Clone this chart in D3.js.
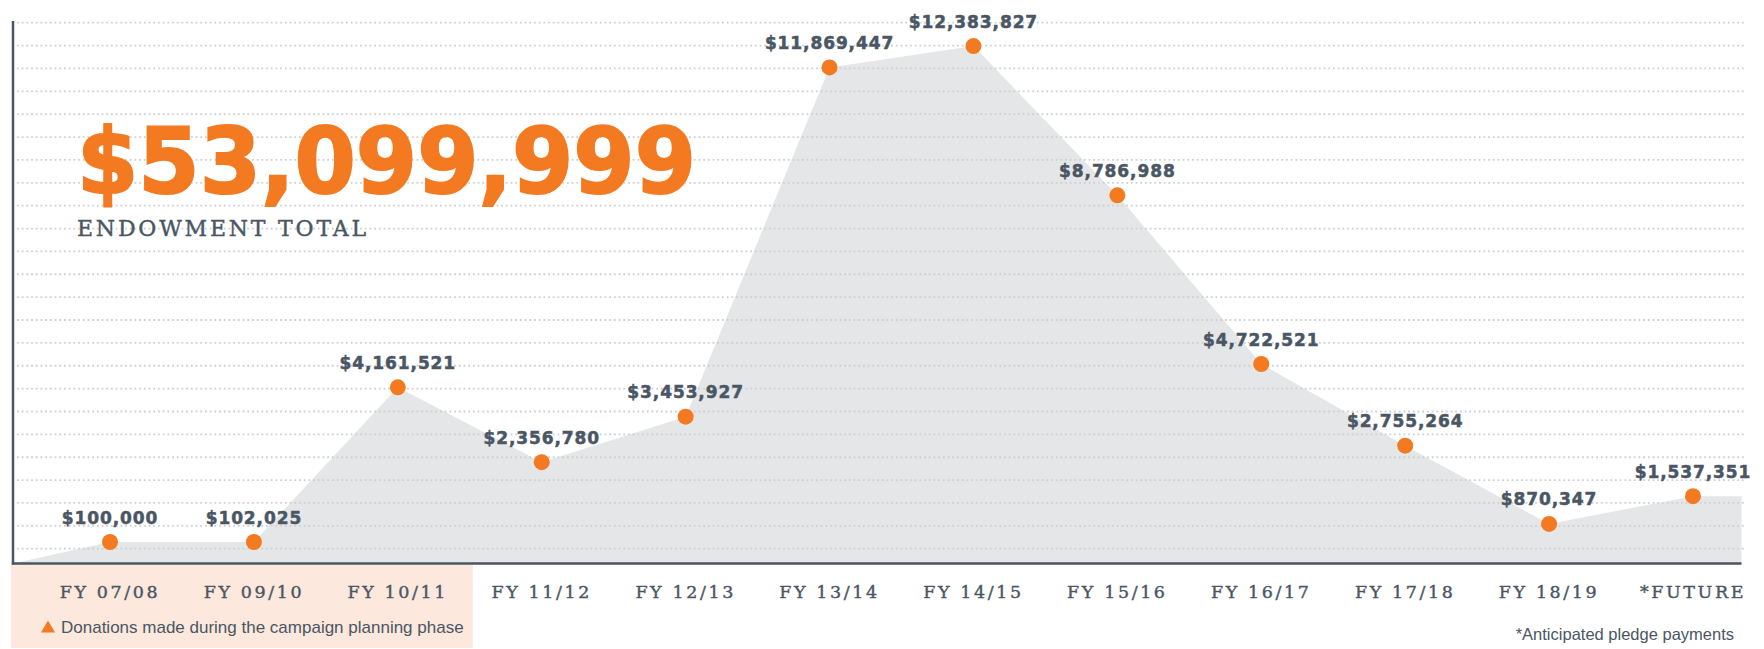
<!DOCTYPE html>
<html>
<head>
<meta charset="utf-8">
<script src="https://cdn.jsdelivr.net/npm/d3@7"></script>
<style>
  body { margin: 0; background: #fff; }
  svg { display: block; }
</style>
</head>
<body>
<div id="chart"></div>
<script>
/* DATA */
const years = ["FY 07/08", "FY 09/10", "FY 10/11", "FY 11/12", "FY 12/13", "FY 13/14",
  "FY 14/15", "FY 15/16", "FY 16/17", "FY 17/18", "FY 18/19", "*FUTURE"];
const donations = [100000, 102025, 4161521, 2356780, 3453927, 11869447,
  12383827, 8786988, 4722521, 2755264, 870347, 1537351];
const planningYears = ["FY 07/08", "FY 09/10", "FY 10/11"];
const endowmentTotal = "$53,099,999";

/* CONSTANTS */
const width = 1764, height = 649;
const axisX = 13, axisTop = 21, baseline = 563.5, rightX = 1741.5;
const orange = "#f37a21", slate = "#4a5664";

const svg = d3.select("#chart").append("svg")
  .attr("width", width)
  .attr("height", height);

// scales
const xScale = d3.scalePoint()
  .domain(years)
  .range([110, 1693]);

const yScale = d3.scaleLinear()
  .domain([0, 13000000])
  .range([560, 560 - 13 * 41.5]);

// tiny values are lifted a little so the dots stay off the axis
const yPos = v => Math.min(yScale(v), yScale(0) - 18);

const pts = years.map((yr, i) => ({ year: yr, value: donations[i], x: xScale(yr), y: yPos(donations[i]) }));

// planning phase box
const step = xScale.step();
svg.append("rect")
  .attr("x", axisX - 2)
  .attr("y", baseline + 1)
  .attr("width", xScale(planningYears[planningYears.length - 1]) + step / 2 + 5 - axisX)
  .attr("height", height - baseline - 2)
  .attr("fill", "#fce8dc");

// gray area
const areaPts = [{ x: axisX, y: baseline }, ...pts, { x: rightX, y: pts[pts.length - 1].y }];
svg.append("path")
  .datum(areaPts)
  .attr("fill", "#e5e6e8")
  .attr("d", d3.area().x(d => d.x).y0(baseline).y1(d => d.y));

// dotted grid lines
const gridY = d3.range(24).map(i => 22.7 + i * 22.87);
svg.append("g")
  .selectAll("line")
  .data(gridY)
  .join("line")
  .attr("x1", axisX + 4)
  .attr("x2", 1745)
  .attr("y1", d => d)
  .attr("y2", d => d)
  .attr("stroke", "#cdd0d3")
  .attr("stroke-width", 1.8)
  .attr("stroke-dasharray", "1.8 2.9");

// axes lines
svg.append("line")
  .attr("x1", axisX).attr("x2", axisX)
  .attr("y1", axisTop).attr("y2", baseline + 1)
  .attr("stroke", slate).attr("stroke-width", 2.5);
svg.append("line")
  .attr("x1", axisX - 1.2).attr("x2", rightX)
  .attr("y1", baseline).attr("y2", baseline)
  .attr("stroke", slate).attr("stroke-width", 2.6);

// x labels
svg.append("g")
  .selectAll("text")
  .data(years)
  .join("text")
  .attr("x", d => xScale(d))
  .attr("y", 598)
  .attr("text-anchor", "middle")
  .attr("font-family", "DejaVu Serif")
  .attr("font-size", 17.5)
  .attr("letter-spacing", 2.6)
  .attr("fill", slate)
  .attr("stroke", slate)
  .attr("stroke-width", 0.4)
  .text(d => d);

// dots
svg.append("g")
  .selectAll("circle")
  .data(pts)
  .join("circle")
  .attr("cx", d => d.x)
  .attr("cy", d => d.y)
  .attr("r", 8)
  .attr("fill", orange);

// value labels
svg.append("g")
  .selectAll("text")
  .data(pts)
  .join("text")
  .attr("x", d => d.x)
  .attr("y", d => d.y - 18.5)
  .attr("text-anchor", "middle")
  .attr("font-family", "DejaVu Sans")
  .attr("font-weight", "bold")
  .attr("font-size", 17)
  .attr("letter-spacing", 0.9)
  .attr("fill", slate)
  .attr("stroke", slate)
  .attr("stroke-width", 0.5)
  .text(d => d3.format("$,")(d.value));

// headline
svg.append("text")
  .attr("x", 77)
  .attr("y", 193)
  .attr("font-family", "DejaVu Sans")
  .attr("font-weight", "bold")
  .attr("font-size", 90)
  .attr("textLength", 619)
  .attr("lengthAdjust", "spacingAndGlyphs")
  .attr("fill", orange)
  .attr("stroke", orange)
  .attr("stroke-width", 2)
  .text(endowmentTotal);

svg.append("text")
  .attr("x", 77)
  .attr("y", 235.5)
  .attr("font-family", "DejaVu Serif")
  .attr("font-size", 22)
  .attr("textLength", 289)
  .attr("lengthAdjust", "spacing")
  .attr("fill", slate)
  .attr("stroke", slate)
  .attr("stroke-width", 0.4)
  .text("ENDOWMENT TOTAL");

// legend
svg.append("path")
  .attr("d", d3.symbol(d3.symbolTriangle, 85)())
  .attr("transform", "translate(48,628.5)")
  .attr("fill", orange);
svg.append("text")
  .attr("x", 61)
  .attr("y", 633)
  .attr("font-family", "Liberation Sans")
  .attr("font-size", 17)
  .attr("fill", slate)
  .text("Donations made during the campaign planning phase");

// footnote
svg.append("text")
  .attr("x", 1734)
  .attr("y", 640)
  .attr("text-anchor", "end")
  .attr("font-family", "Liberation Sans")
  .attr("font-size", 16.5)
  .attr("fill", slate)
  .text("*Anticipated pledge payments");
</script>
</body>
</html>
